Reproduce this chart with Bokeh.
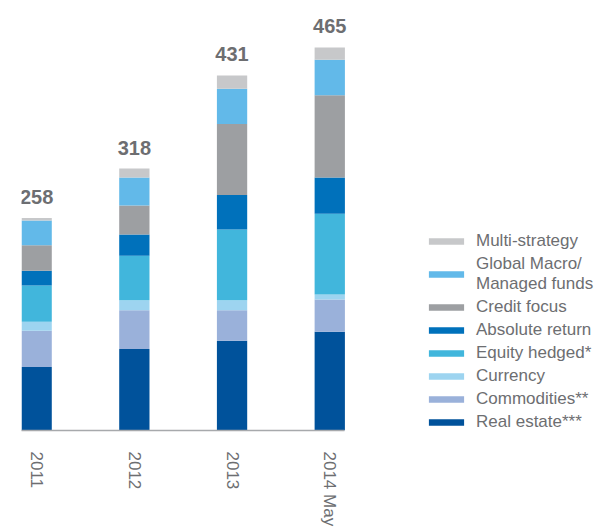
import math
from bokeh.plotting import figure
from bokeh.models import ColumnDataSource, Legend, LegendItem, FixedTicker, Range1d
from bokeh.core.properties import value
from bokeh.embed import file_html
from bokeh.resources import INLINE

periods = ["2011", "2012", "2013", "2014 May"]
real_estate = [77, 99, 109, 120]
commodities = [44, 47, 37, 39]
currency = [11, 12, 12, 6]
equity_hedged = [44, 54, 86, 98]
absolute_return = [18, 26, 42, 44]
credit_focus = [31, 35, 86, 100]
global_macro = [30, 34, 43, 43]
multi_strategy = [3, 11, 16, 15]
totals = [258, 318, 431, 465]

series_keys = ["real_estate", "commodities", "currency", "equity_hedged",
               "absolute_return", "credit_focus", "global_macro", "multi_strategy"]
series_names = ["Real estate***", "Commodities**", "Currency", "Equity hedged*",
                "Absolute return", "Credit focus", "Global Macro/\nManaged funds", "Multi-strategy"]
colors = ["#00529b", "#9ab1da", "#9dd4f0", "#41b6dc",
          "#0071bb", "#9d9fa2", "#62b9e9", "#c7c8ca"]

xs = list(range(len(periods)))
source = ColumnDataSource(dict(
    x=xs,
    real_estate=real_estate, commodities=commodities, currency=currency,
    equity_hedged=equity_hedged, absolute_return=absolute_return,
    credit_focus=credit_focus, global_macro=global_macro, multi_strategy=multi_strategy,
    total=totals, label=[str(t) for t in totals],
))

FONT = "Liberation Sans"
GRAY = "#6d6e71"
BAR_W = 0.31
X0 = -BAR_W / 2
X1 = len(periods) - 1 + BAR_W / 2

p = figure(width=600, height=529, x_range=Range1d(X0, 5.771), y_range=Range1d(0, 522),
           output_backend="svg", toolbar_location=None, y_axis_location=None,
           min_border_left=21, min_border_right=0, min_border_top=0, min_border_bottom=98)
p.outline_line_color = None
p.xgrid.visible = False
p.ygrid.visible = False

renderers = p.vbar_stack(series_keys, x="x", width=BAR_W, fill_color=colors,
                         line_color=None, source=source)

p.text(x="x", y="total", text="label", source=source, text_align="center",
       text_baseline="alphabetic", y_offset=-21, text_font_size="20px",
       text_font_style="bold", text_color=GRAY, text_font=value(FONT))

ax = p.xaxis[0]
ax.ticker = FixedTicker(ticks=xs)
ax.bounds = (X0, X1)
ax.major_label_overrides = {i: lab for i, lab in zip(xs, periods)}
ax.major_tick_line_color = None
ax.minor_tick_line_color = None
ax.axis_line_color = "#a7a9ac"
ax.axis_line_width = 1.5
ax.major_label_orientation = -math.pi / 2
ax.major_label_standoff = 15
ax.major_label_text_font_size = "17px"
ax.major_label_text_color = GRAY
ax.major_label_text_font = FONT

items = [LegendItem(label=n, renderers=[r]) for n, r in zip(series_names, renderers)][::-1]
legend = Legend(items=items, location=(403, -2), glyph_width=44, glyph_height=8,
                label_standoff=8, spacing=3, padding=0, margin=0,
                border_line_color=None, background_fill_alpha=0,
                label_text_font_size="17px", label_text_color=GRAY,
                label_text_line_height=1.45,
                label_text_font=FONT, label_height=20)
p.add_layout(legend)

open("out.html", "w").write(file_html(p, INLINE))
